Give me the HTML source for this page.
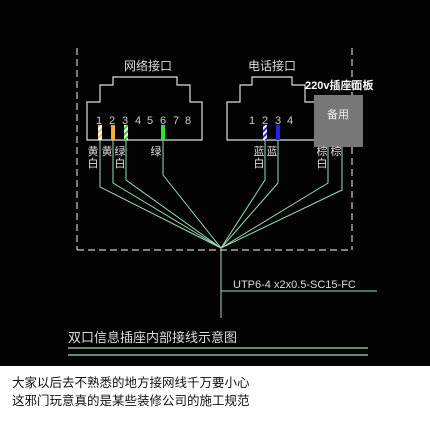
<!DOCTYPE html>
<html><head><meta charset="utf-8"><style>
body{margin:0;width:430px;height:424px;overflow:hidden;background:#fff;font-family:"Liberation Sans","Noto Sans CJK SC",sans-serif}
svg{display:block}
</style></head><body>
<svg width="430" height="424" viewBox="0 0 430 424" xmlns="http://www.w3.org/2000/svg">
<rect x="0" y="0" width="430" height="366" fill="#030303"/>
<g stroke="#ccc" stroke-width="1.2" stroke-dasharray="7,4" fill="none">
<line x1="77" y1="48" x2="77" y2="250"/>
<line x1="352" y1="48" x2="352" y2="250"/>
<line x1="77" y1="250" x2="352" y2="250"/>
</g>
<g stroke="#ddd" stroke-width="1.2" fill="none">
<path d="M87 140 V102 H100 V85 H113 V77 H177 V85 H190 V102 H202 V140 Z"/>
<path d="M227 140 V102 H240 V85 H252 V77 H292 V85 H305 V102 H317 V140 Z"/>
</g>
<g fill="#ddd" font-size="12" font-family="'Noto Sans CJK SC',sans-serif">
<text x="148" y="70" text-anchor="middle">网络接口</text>
<text x="272" y="70" text-anchor="middle">电话接口</text>
</g>
<g fill="#ccc" font-size="11" font-family="'Liberation Sans Narrow','Liberation Sans',sans-serif" text-anchor="middle">
<text x="99" y="124">1</text><text x="112" y="124">2</text><text x="125" y="124">3</text><text x="138" y="124">4</text>
<text x="150" y="124">5</text><text x="163" y="124">6</text><text x="176" y="124">7</text><text x="188" y="124">8</text>
<text x="252" y="124">1</text><text x="265" y="124">2</text><text x="278" y="124">3</text><text x="290" y="124">4</text>
</g>
<rect x="314" y="95" width="49" height="52" fill="#777"/>
<text x="338" y="118" fill="#eee" font-size="11" text-anchor="middle" font-family="'Noto Sans CJK SC',sans-serif">备用</text>
<text x="305" y="89" fill="#fff" font-size="11" font-weight="bold" font-family="'Liberation Sans','Noto Sans CJK SC',sans-serif">220v插座面板</text>
<defs>
<pattern id="sy" width="4" height="4" patternUnits="userSpaceOnUse" patternTransform="rotate(45)"><rect width="4" height="4" fill="#e8c070"/><rect width="2" height="4" fill="#fff"/></pattern>
<pattern id="sg" width="4" height="4" patternUnits="userSpaceOnUse" patternTransform="rotate(45)"><rect width="4" height="4" fill="#3c3"/><rect width="2" height="4" fill="#fff"/></pattern>
<pattern id="sb" width="4" height="4" patternUnits="userSpaceOnUse" patternTransform="rotate(45)"><rect width="4" height="4" fill="#22f"/><rect width="2" height="4" fill="#fff"/></pattern>
</defs>
<rect x="98" y="125" width="4" height="15" fill="url(#sy)"/>
<rect x="111" y="125" width="4" height="15" fill="#f0b030"/>
<rect x="124" y="125" width="4" height="15" fill="url(#sg)"/>
<rect x="161" y="125" width="4" height="15" fill="#2e2"/>
<rect x="263" y="125" width="4" height="15" fill="url(#sb)"/>
<rect x="276" y="125" width="4" height="15" fill="#22e"/>
<g stroke="#9db" stroke-width="1" fill="none">
<path d="M100 140 V187 L221 248"/>
<path d="M113 140 V183 L221 248"/>
<path d="M126 140 V180 L221 248"/>
<path d="M163 140 V175 L221 248"/>
<path d="M265 140 V180 L221 248"/>
<path d="M278 140 V183 L221 248"/>
<path d="M328 147 V183 L221 248"/>
<path d="M342 147 V190 L221 248"/>
<line x1="221" y1="248" x2="221" y2="318"/>
<line x1="221" y1="291" x2="377" y2="291"/>
</g>
<g fill="#ddd" font-size="11" font-family="'Noto Sans CJK SC',sans-serif" text-anchor="middle">
<text x="93" y="155">黄</text><text x="93" y="167">白</text>
<text x="107" y="155">黄</text>
<text x="120" y="155">绿</text><text x="120" y="167">白</text>
<text x="156" y="155">绿</text>
<text x="259" y="155">蓝</text><text x="259" y="167">白</text>
<text x="272" y="155">蓝</text>
<text x="322" y="155">棕</text><text x="322" y="167">白</text>
<text x="336" y="155">棕</text>
</g>
<text x="233" y="288" fill="#ddd" font-size="11" font-family="'Liberation Sans Narrow','Liberation Sans',sans-serif">UTP6-4 x2x0.5-SC15-FC</text>
<text x="68" y="342" fill="#ddd" font-size="13" font-family="'Noto Sans CJK SC',sans-serif">双口信息插座内部接线示意图</text>
<line x1="68" y1="348" x2="368" y2="348" stroke="#9db" stroke-width="1.2"/>
<line x1="68" y1="355" x2="368" y2="355" stroke="#9db" stroke-width="1.2"/>
<g fill="#111" font-size="12.5" font-family="'Noto Sans CJK SC',sans-serif">
<text x="12" y="387">大家以后去不熟悉的地方接网线千万要小心</text>
<text x="12" y="405">这邪门玩意真的是某些装修公司的施工规范</text>
</g>
</svg>
</body></html>
